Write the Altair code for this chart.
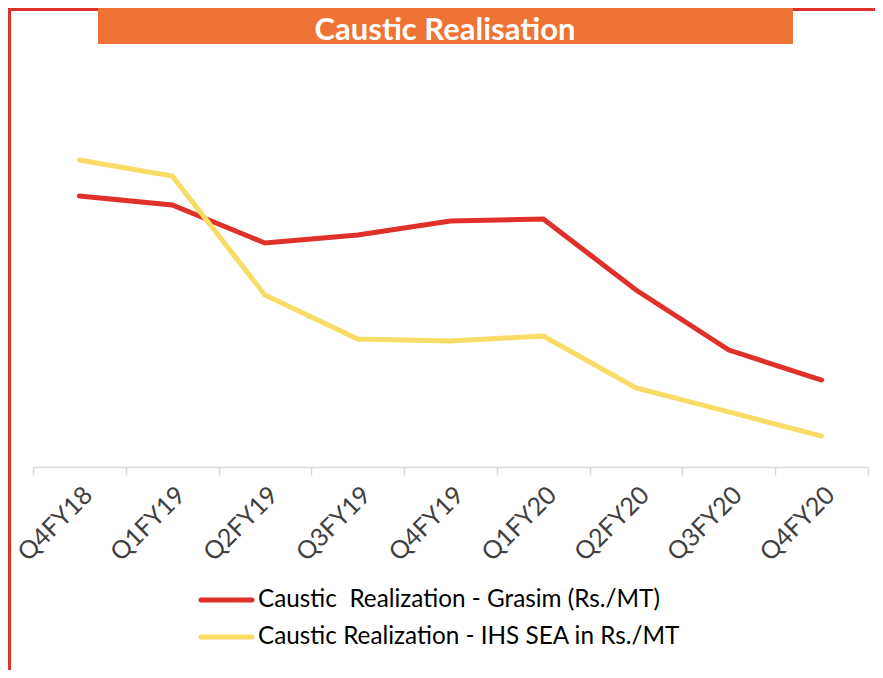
import altair as alt
import pandas as pd

quarters = ["Q4FY18", "Q1FY19", "Q2FY19", "Q3FY19", "Q4FY19", "Q1FY20", "Q2FY20", "Q3FY20", "Q4FY20"]
grasim = [37150, 36420, 33310, 33970, 35110, 35270, 29470, 24560, 22110]
ihs = [40100, 38790, 29060, 25460, 25300, 25710, 21460, 19500, 17530]
series_names = ["Caustic \u00a0Realization - Grasim (Rs./MT)", "Caustic Realization - IHS SEA in Rs./MT"]
series_colors = ["#E0302A", "#F9DC66"]
title_text = "Caustic Realisation"

rows = []
for i, q in enumerate(quarters):
    rows.append({"quarter": q, "series": series_names[0], "value": grasim[i], "order": i})
    rows.append({"quarter": q, "series": series_names[1], "value": ihs[i], "order": i})
df = pd.DataFrame(rows)

FONT = "Lato"

lines = alt.Chart(df).mark_line(strokeWidth=5, strokeCap="round").encode(
    x=alt.X("quarter:N", sort=quarters, bandPosition=0.5,
            scale=alt.Scale(type="band", paddingInner=0, paddingOuter=0),
            axis=alt.Axis(title=None, labelAngle=-45, labelFontSize=25, labelFont=FONT,
                          labelColor="#404040", domainColor="#D9D9D9", domainWidth=1.5,
                          tickColor="#D9D9D9", tickWidth=1.5, tickSize=8, tickBand="extent",
                          labelPadding=7, grid=False)),
    y=alt.Y("value:Q", scale=alt.Scale(domain=[15000, 45000], nice=False, zero=False), axis=None),
    color=alt.Color("series:N", sort=series_names,
                    scale=alt.Scale(domain=series_names, range=series_colors),
                    legend=None),
    order="order:Q",
)

tdf = pd.DataFrame({"t": [title_text]})
box = alt.Chart(tdf).mark_rect(color="#EF7334").encode(
    x=alt.value(65), x2=alt.value(760), y=alt.value(-100), y2=alt.value(-56))
title = alt.Chart(tdf).mark_text(color="white", fontSize=31, font=FONT, fontWeight="bold",
                                 align="center", baseline="alphabetic").encode(
    x=alt.value(412), y=alt.value(-60), text="t:N")

# legend built from the series arrays
legend_layers = []
for i, (name, col) in enumerate(zip(series_names, series_colors)):
    ldf = pd.DataFrame({"name": [name]})
    yy = 500 + 37 * i
    legend_layers.append(alt.Chart(ldf).mark_rule(color=col, strokeWidth=5, strokeCap="round").encode(
        x=alt.value(168), x2=alt.value(219), y=alt.value(yy)))
    legend_layers.append(alt.Chart(ldf).mark_text(color="#000000", fontSize=24.3, font=FONT,
                                                  align="left", baseline="middle").encode(
        x=alt.value(225), y=alt.value(yy), text="name:N"))

bdf = pd.DataFrame({"b": [0]})
left_border = alt.Chart(bdf).mark_rule(color="#E0302A", strokeWidth=3).encode(
    x=alt.value(-23.5), y=alt.value(-91), y2=alt.value(600))
top_left = alt.Chart(bdf).mark_rule(color="#E0302A", strokeWidth=3).encode(
    x=alt.value(-25), x2=alt.value(65), y=alt.value(-90.5))
top_right = alt.Chart(bdf).mark_rule(color="#E0302A", strokeWidth=3).encode(
    x=alt.value(760), x2=alt.value(860), y=alt.value(-90.5))

chart = alt.layer(lines, box, title, left_border, top_left, top_right, *legend_layers).properties(
    width=835, height=367,
    padding={"left": 25, "top": 92, "right": 7, "bottom": 203},
    autosize=alt.AutoSizeParams(type="none"),
).configure_view(stroke=None)

chart.save("out.html", embed_options={"renderer": "svg", "actions": False})
